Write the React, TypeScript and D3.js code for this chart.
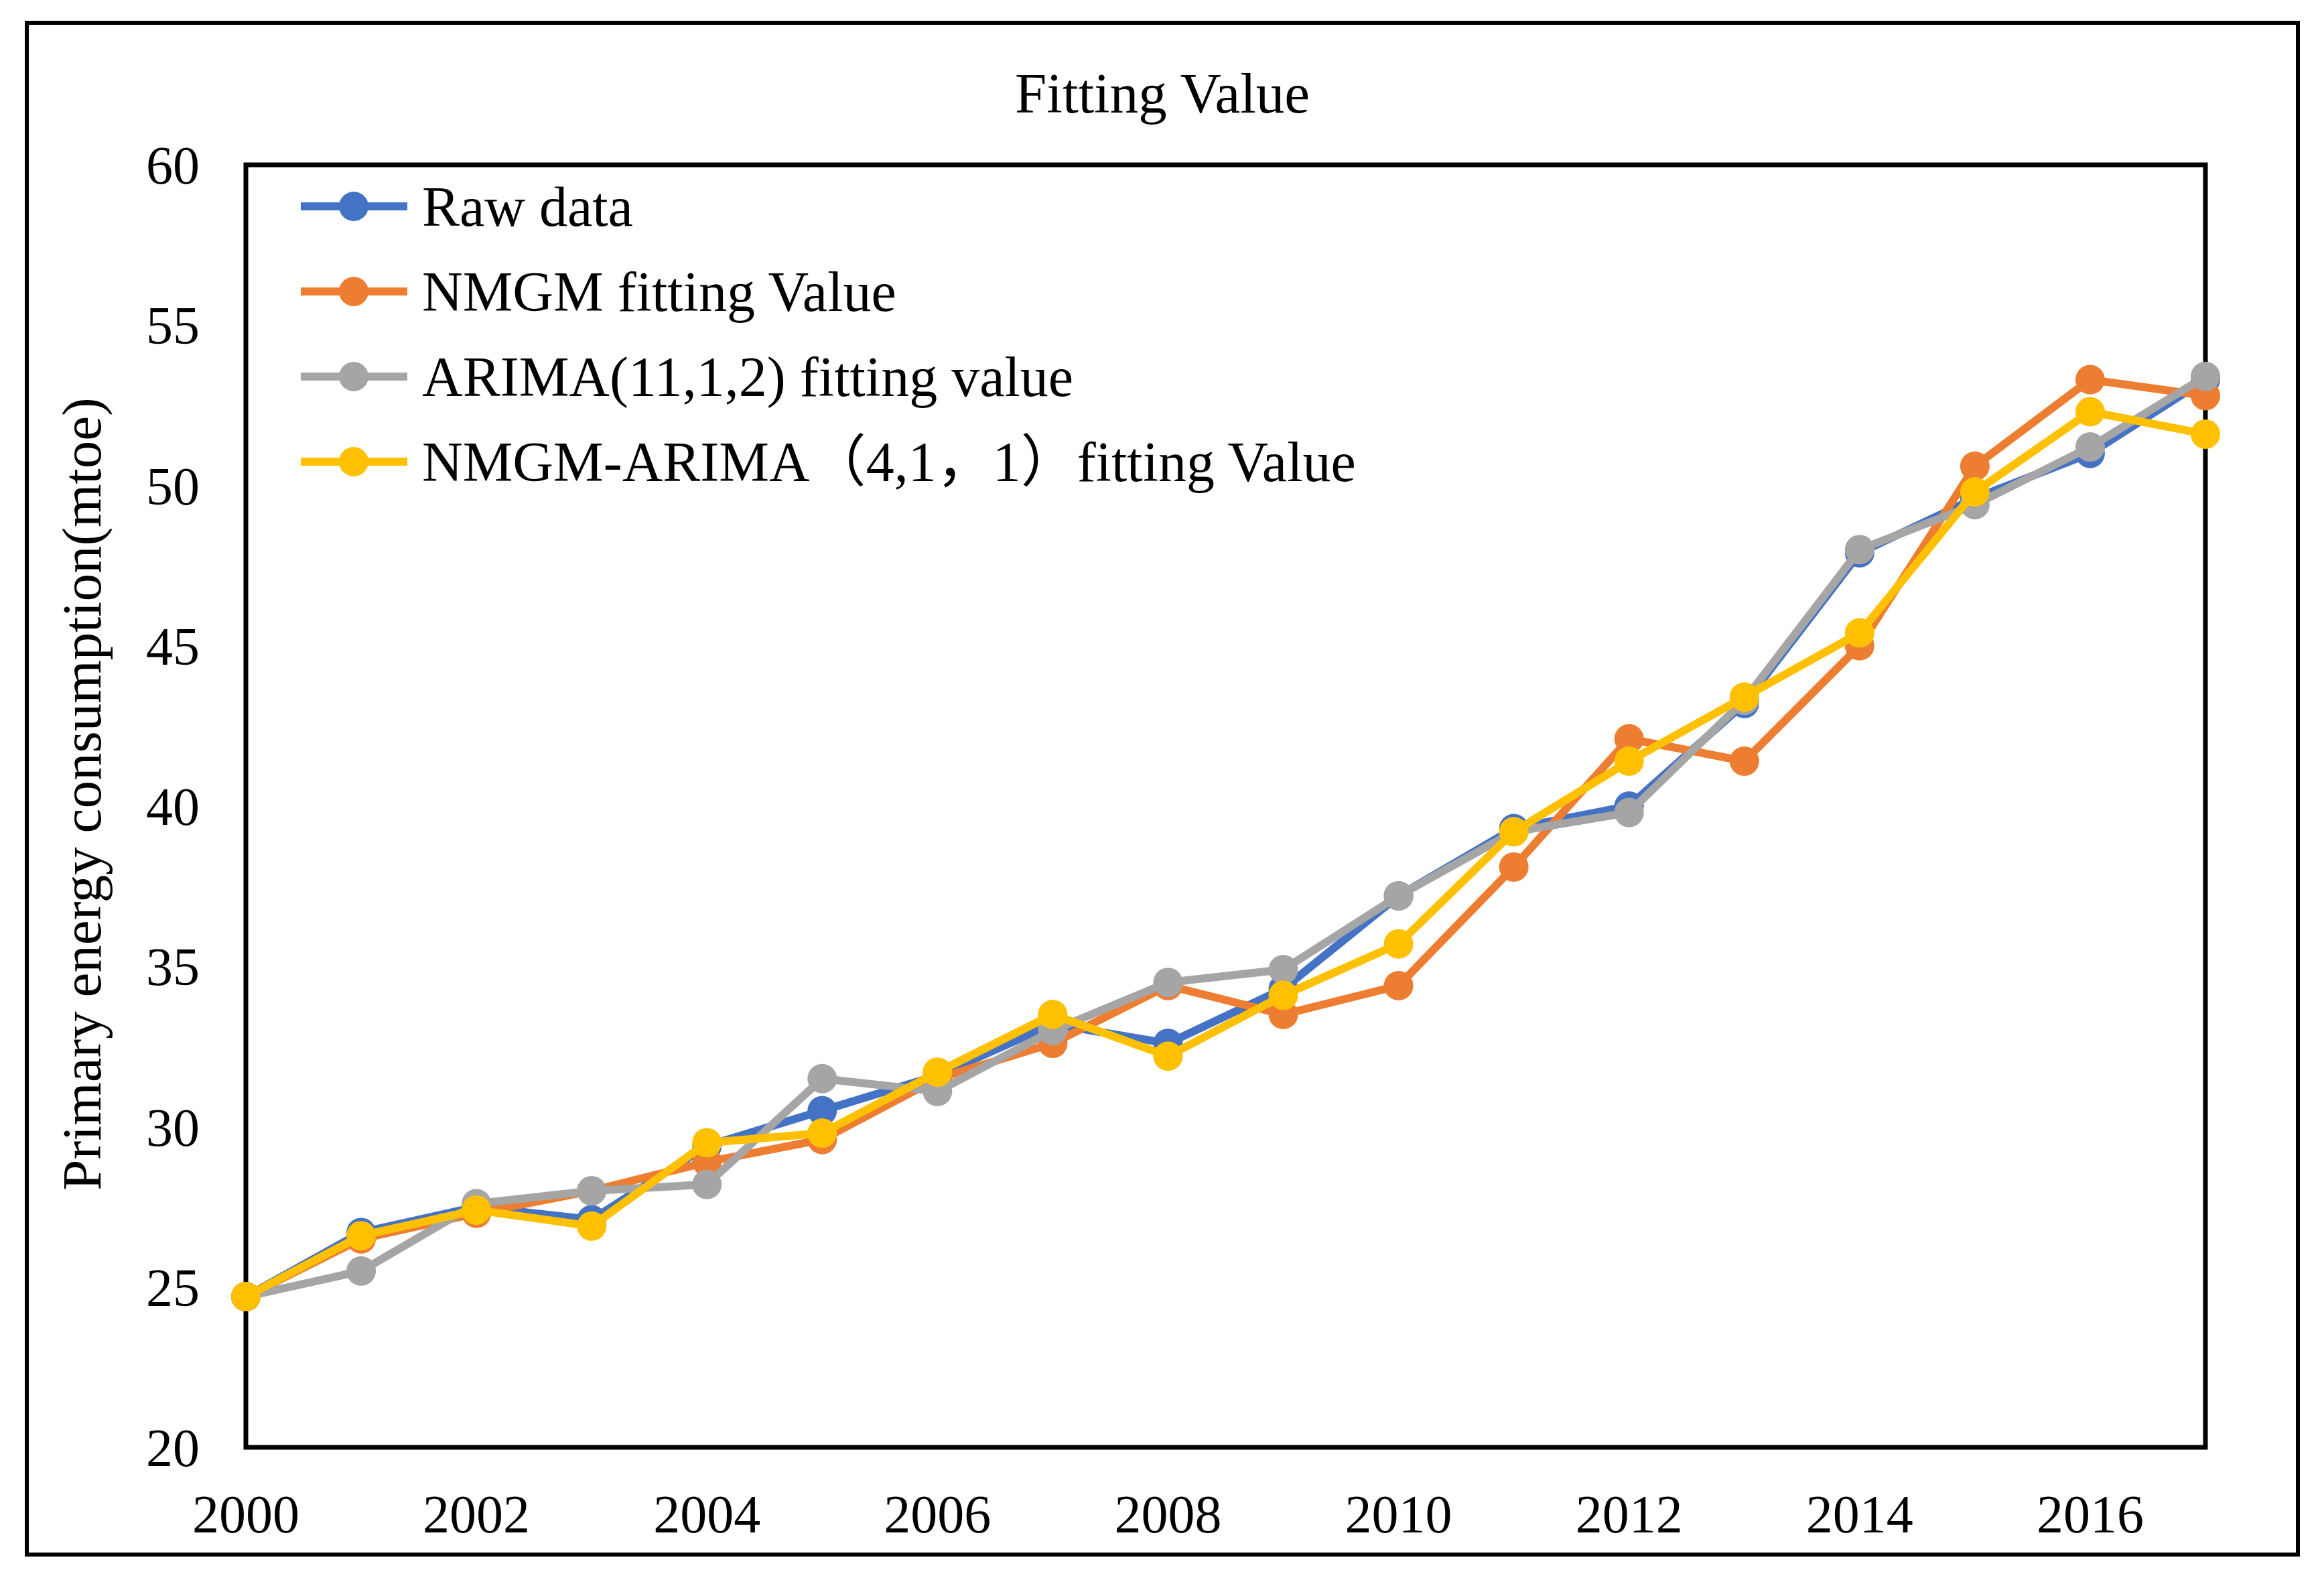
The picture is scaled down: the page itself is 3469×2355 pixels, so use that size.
import React from "react";
import * as d3 from "d3";

// Values
const years = [2000, 2001, 2002, 2003, 2004, 2005, 2006, 2007, 2008, 2009, 2010, 2011, 2012, 2013, 2014, 2015, 2016, 2017];
const rawData = [24.7, 26.7, 27.5, 27.1, 29.4, 30.5, 31.6, 33.2, 32.6, 34.3, 37.2, 39.3, 40.0, 43.2, 47.9, 49.6, 51.0, 53.3];
const nmgmValues = [24.7, 26.5, 27.3, 28.0, 28.9, 29.6, 31.5, 32.6, 34.4, 33.5, 34.4, 38.1, 42.1, 41.4, 45.0, 50.6, 53.3, 52.8];
const arimaValues = [24.7, 25.5, 27.6, 28.0, 28.2, 31.5, 31.1, 33.0, 34.5, 34.9, 37.2, 39.2, 39.8, 43.3, 48.0, 49.4, 51.2, 53.4];
const hybridValues = [24.7, 26.6, 27.4, 26.9, 29.5, 29.8, 31.7, 33.5, 32.2, 34.1, 35.7, 39.2, 41.4, 43.4, 45.4, 49.8, 52.3, 51.6];

const seriesNames = ["Raw data", "NMGM fitting Value", "ARIMA(11,1,2) fitting value", "NMGM-ARIMA\uFF084,1\uFF0C1\uFF09fitting Value"];
const seriesColors = ["#4472C4", "#ED7D31", "#A5A5A5", "#FFC000"];
const yTicks = [20, 25, 30, 35, 40, 45, 50, 55, 60];
const xTicks = [2000, 2002, 2004, 2006, 2008, 2010, 2012, 2014, 2016];

const W = 3469;
const H = 2355;
const FONT = "'Times New Roman', 'Liberation Serif', 'Noto Sans CJK SC', serif";

export default function App() {
  const plot = { left: 367, right: 3292, top: 246, bottom: 2160 };

  const x = d3.scaleLinear().domain([2000, 2017]).range([plot.left, plot.right]);
  const y = d3.scaleLinear().domain([20, 60]).range([plot.bottom, plot.top]);

  const allSeries = [rawData, nmgmValues, arimaValues, hybridValues];

  const line = d3
    .line<number>()
    .x((_, i) => x(years[i]))
    .y((d) => y(d));

  return (
    <svg
      width={W}
      height={H}
      style={{ position: "absolute", left: 0, top: 0, background: "#fff" }}
      fontFamily={FONT}
    >
      <rect x={0} y={0} width={W} height={H} fill="#fff" />
      {/* outer frame */}
      <rect x={40} y={34} width={3390} height={2286} fill="none" stroke="#000" strokeWidth={6} />

      {/* title */}
      <text x={1735} y={168} textAnchor="middle" fontSize={85} fill="#000">
        Fitting Value
      </text>

      {/* plot box */}
      <rect
        x={plot.left}
        y={plot.top}
        width={plot.right - plot.left}
        height={plot.bottom - plot.top}
        fill="#fff"
        stroke="#000"
        strokeWidth={7}
      />

      {/* y tick labels */}
      {yTicks.map((t) => (
        <text key={t} x={298} y={y(t)} dy="0.35em" textAnchor="end" fontSize={80} fill="#000">
          {t}
        </text>
      ))}

      {/* x tick labels */}
      {xTicks.map((t) => (
        <text key={t} x={x(t)} y={2287} textAnchor="middle" fontSize={80} fill="#000">
          {t}
        </text>
      ))}

      {/* y axis title */}
      <text
        transform={`translate(150,${(plot.top + plot.bottom) / 2 - 18}) rotate(-90)`}
        textAnchor="middle"
        fontSize={83}
        fill="#000"
      >
        Primary energy consumption(mtoe)
      </text>

      {/* series */}
      {allSeries.map((vals, si) => (
        <g key={si}>
          <path
            d={line(vals) || ""}
            fill="none"
            stroke={seriesColors[si]}
            strokeWidth={12}
            strokeLinejoin="round"
          />
          {vals.map((v, i) => (
            <circle key={i} cx={x(years[i])} cy={y(v)} r={22} fill={seriesColors[si]} />
          ))}
        </g>
      ))}

      {/* legend */}
      {seriesNames.map((name, i) => {
        const cy = 308 + i * 127;
        return (
          <g key={name}>
            <line x1={449} x2={608} y1={cy} y2={cy} stroke={seriesColors[i]} strokeWidth={12} />
            <circle cx={528} cy={cy} r={22} fill={seriesColors[i]} />
            <text x={630} y={cy} dy="0.35em" fontSize={84} fill="#000">
              {name}
            </text>
          </g>
        );
      })}
    </svg>
  );
}
